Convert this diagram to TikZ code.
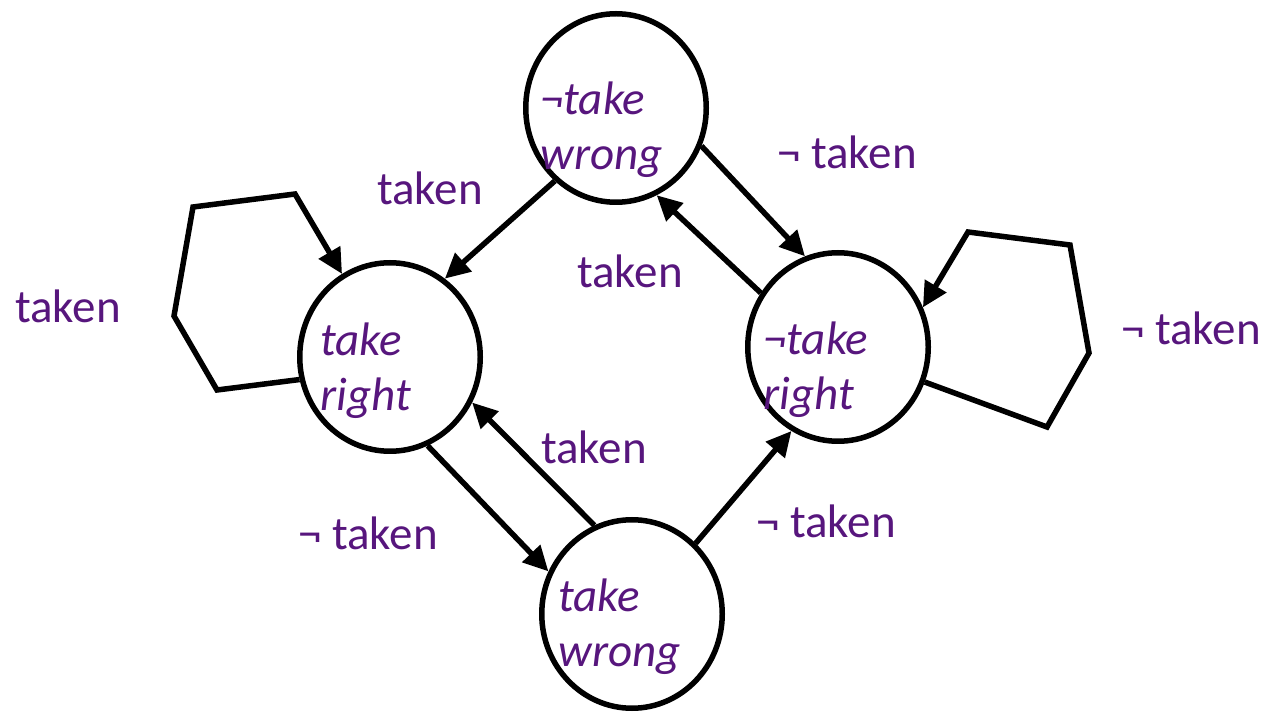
\documentclass[tikz,border=0pt]{standalone}
\usepackage{fontspec}
\setmainfont{Carlito}
\usetikzlibrary{shapes.geometric,arrows.meta}
\definecolor{stpurple}{RGB}{87,22,125}
\begin{document}
\begin{tikzpicture}[x=0.5pt,y=-0.5pt,
    state/.style={ellipse,draw,line width=2.75pt,minimum width=90.25pt,minimum height=94.25pt,inner sep=0pt},
    stxt/.style={anchor=west,align=left,text=stpurple,inner sep=0pt,font=\fontsize{23.5}{27.5}\selectfont\itshape},
    edgelbl/.style={text=stpurple,inner sep=0pt,font=\fontsize{23.5}{28}\selectfont},
    arr/.style={line width=2.75pt,line join=miter,-{Triangle[length=12.5pt,width=12pt]}}]
    \useasboundingbox (0,0) rectangle (1268,715);
    % states
    \node[state] (nwrong) at (616,108) {};
    \node[state] (right) at (390,357) {};
    \node[state] (nright) at (838,347) {};
    \node[state] (wrong) at (632,614) {};
    \node[stxt] (nwrongtxt) at (540,130) {¬take\\wrong};
    \node[stxt] (righttxt) at (320,371) {take\\right};
    \node[stxt] (nrighttxt) at (763,370) {¬take\\right};
    \node[stxt] (wrongtxt) at (558,627) {take\\wrong};
    % transitions
    \draw[arr] (nwrong.230) -- (right.55);
    \draw[arr] (right.-67) -- (wrong.153);
    \draw[arr] (wrong.113) -- (right.-29);
    \draw[arr] (wrong.48) -- (nright.-119);
    \draw[arr] (nright.145) -- (nwrong.-65);
    \draw[arr] (nwrong.-24) -- (nright.110);
    \draw[arr] (right.194) -- (217,390) -- (174,316) -- (193,207) -- (295,194) -- (right.120);
    \draw[arr] (nright.-22) -- (1047,427) -- (1089,353) -- (1070,245) -- (968,232) -- (nright.25);
    % labels
    \node[edgelbl] (l1) at (430,188) {taken};
    \node[edgelbl] (l2) at (68,306) {taken};
    \node[edgelbl] (l3) at (847,152) {¬ taken};
    \node[edgelbl] (l4) at (630,271) {taken};
    \node[edgelbl] (l5) at (1191,328) {¬ taken};
    \node[edgelbl] (l6) at (594,447) {taken};
    \node[edgelbl] (l7) at (368,533) {¬ taken};
    \node[edgelbl] (l8) at (826,521) {¬ taken};
\end{tikzpicture}
\end{document}
